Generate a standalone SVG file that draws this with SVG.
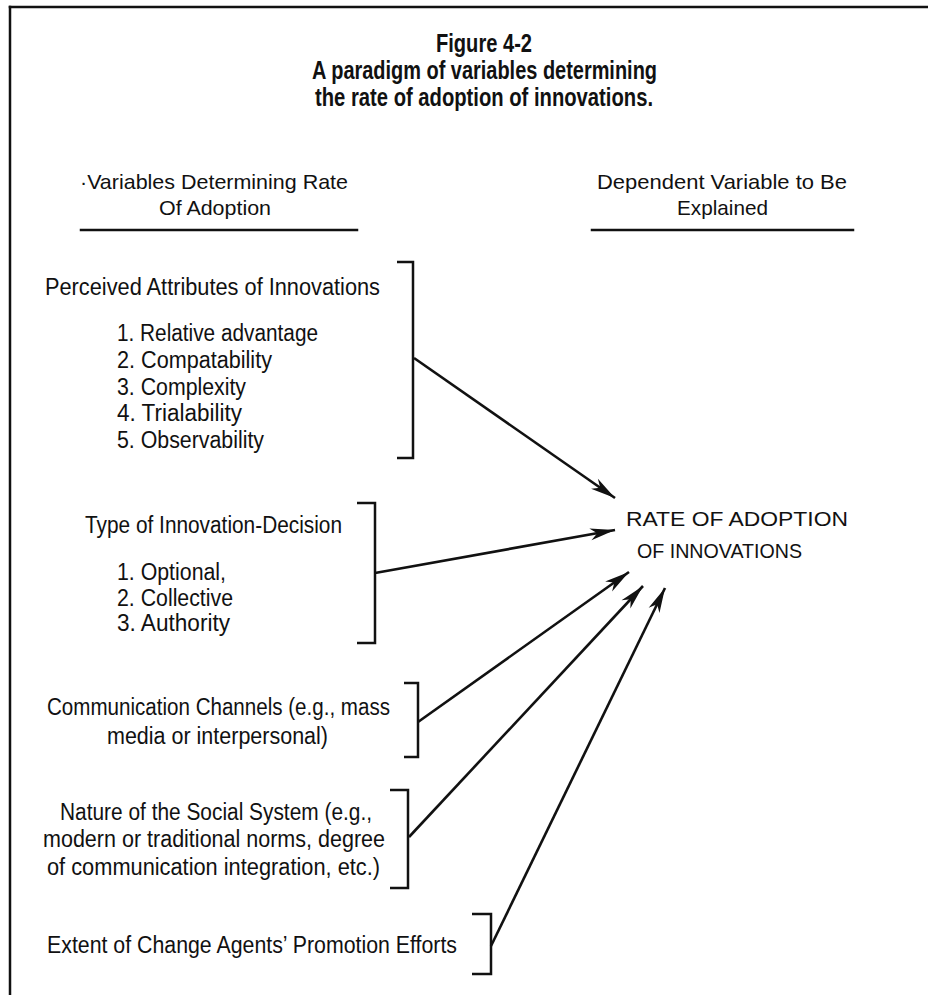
<svg xmlns="http://www.w3.org/2000/svg" width="928" height="995" viewBox="0 0 928 995">
<style>
text{font-family:"Liberation Sans",Arial,sans-serif;fill:#111;}
.t{font-size:25px;font-weight:bold;}
.h{font-size:21px;}
.b{font-size:23px;}
.r{font-size:21px;}
.ln{stroke:#111;stroke-width:2.5;fill:none;stroke-linecap:square;}
.br{stroke:#111;stroke-width:2.5;fill:none;}
.ar{stroke:#111;stroke-width:2.6;fill:none;marker-end:url(#dart);}
</style>
<defs>
<marker id="dart" markerUnits="userSpaceOnUse" markerWidth="30" markerHeight="16" viewBox="-26 -8 28 16" refX="0" refY="0" orient="auto">
<path d="M0,0 L-25,-6 L-18,0 L-25,6 Z" fill="#111"/>
</marker>
</defs>
<rect width="928" height="995" fill="#fff"/>
<g id="border">
<line class="ln" x1="10" y1="7" x2="928" y2="7" stroke-width="2"/>
<line class="ln" x1="10" y1="7" x2="10" y2="995"/>
</g>
<g id="title">
<text class="t" x="436" y="52" textLength="96" lengthAdjust="spacingAndGlyphs">Figure 4-2</text>
<text class="t" x="312" y="79" textLength="345" lengthAdjust="spacingAndGlyphs">A paradigm of variables determining</text>
<text class="t" x="315" y="106" textLength="338" lengthAdjust="spacingAndGlyphs">the rate of adoption of innovations.</text>
</g>
<g id="header-left">
<text class="h" x="80" y="189" textLength="268" lengthAdjust="spacingAndGlyphs">·Variables Determining Rate</text>
<text class="h" x="159" y="215" textLength="112" lengthAdjust="spacingAndGlyphs">Of Adoption</text>
<line class="ln" x1="81" y1="230" x2="357" y2="230"/>
</g>
<g id="header-right">
<text class="h" x="597" y="189" textLength="250" lengthAdjust="spacingAndGlyphs">Dependent Variable to Be</text>
<text class="h" x="677" y="215" textLength="91" lengthAdjust="spacingAndGlyphs">Explained</text>
<line class="ln" x1="592" y1="230" x2="853" y2="230"/>
</g>
<g id="perceived-attributes">
<text class="b" x="45" y="295" textLength="335" lengthAdjust="spacingAndGlyphs">Perceived Attributes of Innovations</text>
<text class="b" x="117" y="341" textLength="201" lengthAdjust="spacingAndGlyphs">1. Relative advantage</text>
<text class="b" x="117" y="368" textLength="155" lengthAdjust="spacingAndGlyphs">2. Compatability</text>
<text class="b" x="117" y="395" textLength="129" lengthAdjust="spacingAndGlyphs">3. Complexity</text>
<text class="b" x="117" y="421" textLength="125" lengthAdjust="spacingAndGlyphs">4. Trialability</text>
<text class="b" x="117" y="448" textLength="147" lengthAdjust="spacingAndGlyphs">5. Observability</text>
<path class="br" d="M397,262 H413 V458 H397"/>
</g>
<g id="innovation-decision">
<text class="b" x="85" y="533" textLength="257" lengthAdjust="spacingAndGlyphs">Type of Innovation-Decision</text>
<text class="b" x="117" y="580" textLength="109" lengthAdjust="spacingAndGlyphs">1. Optional,</text>
<text class="b" x="117" y="606" textLength="116" lengthAdjust="spacingAndGlyphs">2. Collective</text>
<text class="b" x="117" y="631" textLength="113" lengthAdjust="spacingAndGlyphs">3. Authority</text>
<path class="br" d="M357,503 H375 V643 H357"/>
</g>
<g id="communication-channels">
<text class="b" x="47" y="715" textLength="343" lengthAdjust="spacingAndGlyphs">Communication Channels (e.g., mass</text>
<text class="b" x="107" y="744" textLength="221" lengthAdjust="spacingAndGlyphs">media or interpersonal)</text>
<path class="br" d="M404,683 H418 V757 H404"/>
</g>
<g id="social-system">
<text class="b" x="60" y="820" textLength="312" lengthAdjust="spacingAndGlyphs">Nature of the Social System (e.g.,</text>
<text class="b" x="43" y="847" textLength="342" lengthAdjust="spacingAndGlyphs">modern or traditional norms, degree</text>
<text class="b" x="47" y="875" textLength="333" lengthAdjust="spacingAndGlyphs">of communication integration, etc.)</text>
<path class="br" d="M390,790 H408 V888 H390"/>
</g>
<g id="change-agents">
<text class="b" x="47" y="953" textLength="410" lengthAdjust="spacingAndGlyphs">Extent of Change Agents’ Promotion Efforts</text>
<path class="br" d="M472,914 H491 V974 H472"/>
</g>
<g id="rate-of-adoption">
<text class="r" x="626" y="526" textLength="222" lengthAdjust="spacingAndGlyphs">RATE OF ADOPTION</text>
<text class="r" x="637" y="558" textLength="165" lengthAdjust="spacingAndGlyphs">OF INNOVATIONS</text>
</g>
<g id="connectors">
<line class="ar" x1="414" y1="358" x2="615" y2="498"/>
<line class="ar" x1="375" y1="573" x2="615" y2="530"/>
<line class="ar" x1="418" y1="722" x2="629" y2="572"/>
<line class="ar" x1="409" y1="837" x2="643" y2="586"/>
<line class="ar" x1="491" y1="946" x2="665" y2="588"/>
</g>
</svg>
